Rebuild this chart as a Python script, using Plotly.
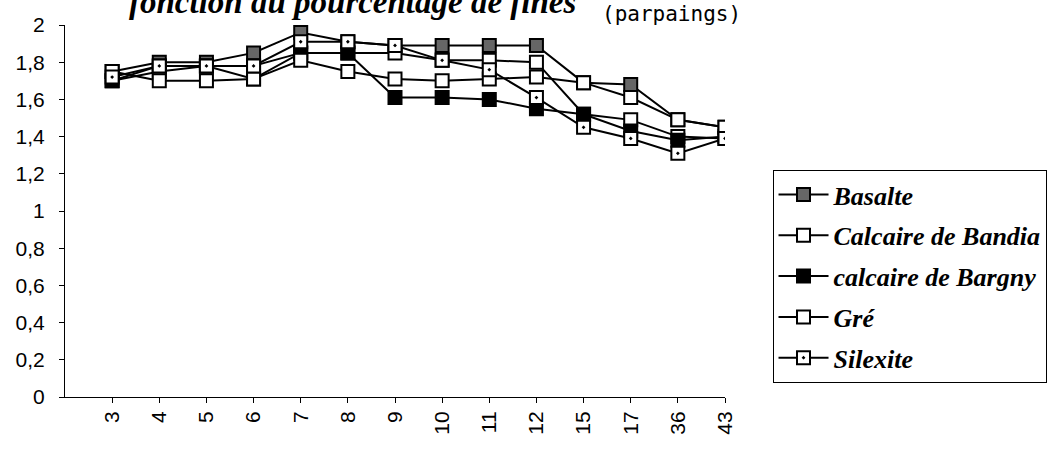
import plotly.graph_objects as go

categories = ["3", "4", "5", "6", "7", "8", "9", "10", "11", "12", "15", "17", "36", "43"]
basalte = [1.75, 1.80, 1.80, 1.85, 1.96, 1.91, 1.89, 1.89, 1.89, 1.89, 1.69, 1.68, 1.49, 1.45]
bandia = [1.70, 1.75, 1.78, 1.78, 1.85, 1.85, 1.85, 1.81, 1.81, 1.80, 1.52, 1.49, 1.40, 1.39]
bargny = [1.70, 1.78, 1.78, 1.71, 1.85, 1.85, 1.61, 1.61, 1.60, 1.55, 1.52, 1.43, 1.38, 1.40]
gre = [1.75, 1.70, 1.70, 1.71, 1.81, 1.75, 1.71, 1.70, 1.71, 1.72, 1.69, 1.61, 1.49, 1.45]
silexite = [1.72, 1.78, 1.78, 1.78, 1.91, 1.91, 1.89, 1.81, 1.76, 1.61, 1.45, 1.39, 1.31, 1.39]

y_tickvals = [0, 0.2, 0.4, 0.6, 0.8, 1.0, 1.2, 1.4, 1.6, 1.8, 2.0]
y_ticktext = ["0", "0,2", "0,4", "0,6", "0,8", "1", "1,2", "1,4", "1,6", "1,8", "2"]

series = [
    ("Basalte", basalte, "square", "#666666"),
    ("Calcaire de Bandia", bandia, "square", "white"),
    ("calcaire de Bargny", bargny, "square", "black"),
    ("Gré", gre, "square", "white"),
    ("Silexite", silexite, "square-dot", "white"),
]

fig = go.Figure()
for i, (name, vals, sym, fill) in enumerate(series):
    fig.add_trace(go.Scatter(
        x=categories, y=vals, name=name, mode="lines+markers",
        legendgroup="g%d" % i,
        line=dict(color="black", width=2),
        marker=dict(symbol=sym, size=13, color=fill,
                    line=dict(color="black", width=2)),
    ))

fig.update_layout(
    width=1059, height=450,
    margin=dict(l=65, r=332, t=25, b=53),
    paper_bgcolor="white", plot_bgcolor="white",
    showlegend=True,
    legend=dict(
        x=1.072, y=0.61, xanchor="left", yanchor="top",
        bordercolor="black", borderwidth=1, bgcolor="white",
        traceorder="grouped", tracegroupgap=4,
        font=dict(family="Liberation Serif", size=26, color="black",
                  style="italic", weight="bold"),
        itemwidth=50,
    ),
    xaxis=dict(
        type="category", range=[-1, 13],
        showgrid=False, zeroline=False,
        showline=True, linecolor="black", linewidth=1,
        ticks="outside", ticklen=5, tickcolor="black",
        tickangle=-90,
        tickfont=dict(family="Liberation Sans", size=21, color="black"),
    ),
    yaxis=dict(
        range=[0, 2],
        tickvals=y_tickvals, ticktext=y_ticktext,
        showgrid=False, zeroline=False,
        showline=True, linecolor="black", linewidth=1,
        ticks="outside", ticklen=5, tickcolor="black",
        ticklabelstandoff=10,
        tickfont=dict(family="Liberation Sans", size=21, color="black"),
    ),
    annotations=[
        dict(text="fonction du pourcentage de fines", xref="paper", yref="paper",
             x=0.0937, y=1.008, xanchor="left", yanchor="bottom", showarrow=False,
             font=dict(family="Liberation Serif", size=33, color="black",
                       style="italic", weight="bold")),
        dict(text="(parpaings)", xref="paper", yref="paper",
             x=0.81, y=0.992, xanchor="left", yanchor="bottom", showarrow=False,
             font=dict(family="DejaVu Sans Mono", size=21, color="black")),
    ],
)

fig.write_html("out.html")
